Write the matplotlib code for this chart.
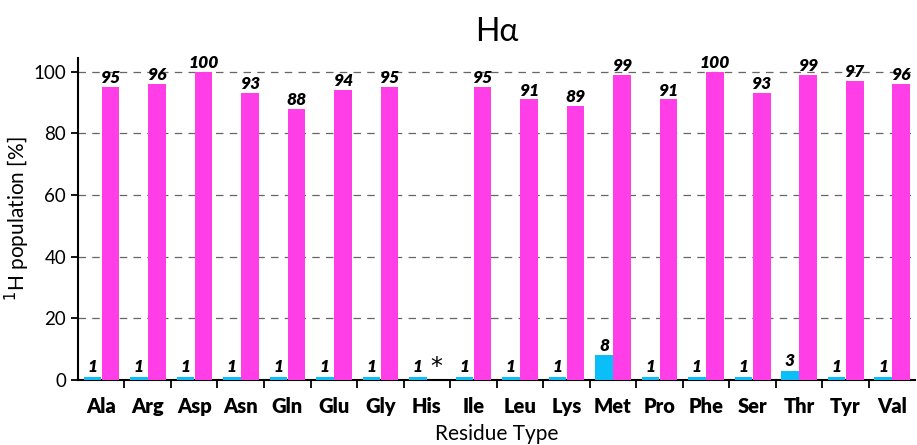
import matplotlib
matplotlib.use("Agg")
import matplotlib.pyplot as plt
import numpy as np

residues = ["Ala", "Arg", "Asp", "Asn", "Gln", "Glu", "Gly", "His", "Ile",
            "Leu", "Lys", "Met", "Pro", "Phe", "Ser", "Thr", "Tyr", "Val"]
minor_pop = [1, 1, 1, 1, 1, 1, 1, 1, 1, 1, 1, 8, 1, 1, 1, 3, 1, 1]
major_pop = [95, 96, 100, 93, 88, 94, 95, None, 95, 91, 89, 99, 91, 100,
             93, 99, 97, 96]

plt.rcParams["font.family"] = ["Lato", "DejaVu Sans"]

cyan = "#0ABEF7"
magenta = "#FF3EE8"

fig = plt.figure(figsize=(9.17, 4.45), dpi=100)
ax = fig.add_axes([0.085, 0.146, 0.913, 0.724])

x = np.arange(len(residues))
w = 0.38
ax.bar(x - 0.19, minor_pop, width=w, color=cyan, zorder=3)
maj_x = [xi + 0.2 for xi, v in zip(x, major_pop) if v is not None]
maj_v = [v for v in major_pop if v is not None]
ax.bar(maj_x, maj_v, width=w, color=magenta, zorder=3)

lab = dict(ha="center", va="bottom", fontsize=12.5, fontweight="heavy",
           fontstyle="italic", zorder=4)
for xi, v in zip(x, minor_pop):
    ax.text(xi - 0.19, v + 0.6, str(v), **lab)
for xi, v in zip(x, major_pop):
    if v is None:
        # no major population for His
        ax.text(xi + 0.2, 0.2, "*", ha="center", va="bottom", fontsize=17,
                family="DejaVu Sans")
    else:
        ax.text(xi + 0.2, v + 0.3, str(v), **lab)

ax.set_xlim(-0.5, len(residues) - 0.5)
ax.set_ylim(0, 104.5)
ax.set_yticks([0, 20, 40, 60, 80, 100])
ax.set_xticks(x)
ax.set_xticklabels(residues, fontsize=14.5, fontweight="heavy")
ax.set_xticks(x[:-1] + 0.5, minor=True)
ax.tick_params(axis="x", which="major", length=0, pad=12)
ax.tick_params(axis="x", which="minor", length=6, width=1.3, direction="out")
ax.tick_params(axis="y", labelsize=13.5, length=5, width=1.3)

ax.yaxis.grid(True, linestyle=(0, (6, 5)), color="#666666", linewidth=0.9)
ax.set_axisbelow(True)
for s in ["top", "right"]:
    ax.spines[s].set_visible(False)
for s in ["left", "bottom"]:
    ax.spines[s].set_linewidth(1.5)

ax.set_ylabel("$^1$H population [%]", fontsize=15, labelpad=1)
ax.set_xlabel("Residue Type", fontsize=15)
ax.xaxis.set_label_coords(0.5, -0.138)
ax.set_title("H\u03b1", fontsize=23, pad=12)

fig.savefig("out.png", dpi=100)
